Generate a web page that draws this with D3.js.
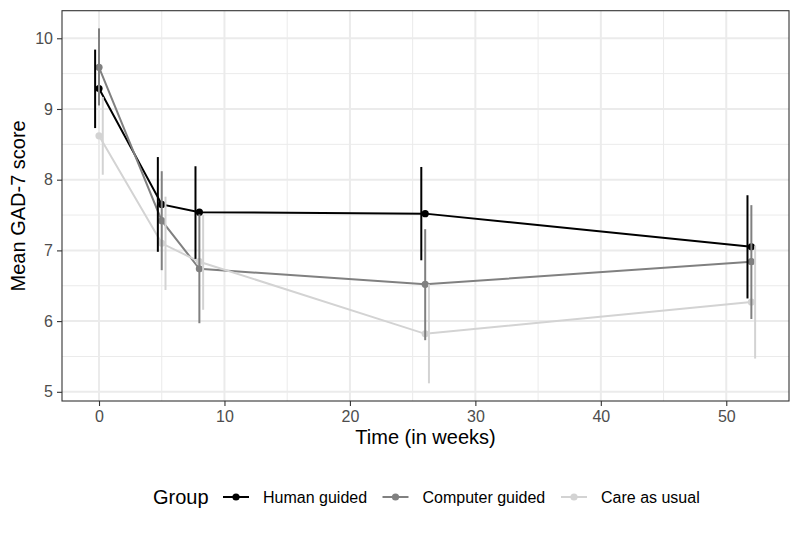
<!DOCTYPE html>
<html><head><meta charset="utf-8">
<script src="https://cdn.jsdelivr.net/npm/d3@7"></script>
<style>body{margin:0;background:#fff}text{font-family:"Liberation Sans",Arial,sans-serif}</style>
</head><body>
<svg id="c" width="800" height="533"></svg>
<script>
const weeks = [0, 5, 8, 26, 52];
const groups = ["Human guided", "Computer guided", "Care as usual"];
const colors = ["#000000", "#808080", "#d3d3d3"];
const dodge = [-0.31, 0, 0.30];
const humanMean  = [9.29, 7.65, 7.54, 7.52, 7.05];
const humanLow   = [8.73, 6.98, 6.88, 6.86, 6.32];
const humanHigh  = [9.84, 8.32, 8.19, 8.18, 7.78];
const compMean   = [9.59, 7.42, 6.74, 6.52, 6.84];
const compLow    = [9.05, 6.72, 5.97, 5.73, 6.03];
const compHigh   = [10.14, 8.12, 7.51, 7.30, 7.64];
const careMean   = [8.62, 7.10, 6.84, 5.82, 6.27];
const careLow    = [8.07, 6.44, 6.16, 5.12, 5.47];
const careHigh   = [9.17, 7.76, 7.50, 6.52, 7.07];
const xTicks = [0, 10, 20, 30, 40, 50];
const yTicks = [5, 6, 7, 8, 9, 10];

const series = [
  {name: groups[0], mean: humanMean, lo: humanLow, hi: humanHigh},
  {name: groups[1], mean: compMean, lo: compLow, hi: compHigh},
  {name: groups[2], mean: careMean, lo: careLow, hi: careHigh}
];

const svg = d3.select("#c");
const L = 62, R = 789, T = 10.7, B = 401;
const x = d3.scaleLinear().domain([-2.95, 55.0]).range([L, R]);
const y = d3.scaleLinear().domain([4.87, 10.39]).range([B, T]);

// grid
const g = svg.append("g");
const xMinor = [5, 15, 25, 35, 45];
const yMinor = [5.5, 6.5, 7.5, 8.5, 9.5];
g.selectAll(".xm").data(xMinor).enter().append("line")
  .attr("x1", d => x(d)).attr("x2", d => x(d)).attr("y1", T).attr("y2", B)
  .attr("stroke", "#ebebeb").attr("stroke-width", 1);
g.selectAll(".ym").data(yMinor).enter().append("line")
  .attr("y1", d => y(d)).attr("y2", d => y(d)).attr("x1", L).attr("x2", R)
  .attr("stroke", "#ebebeb").attr("stroke-width", 1);
g.selectAll(".xM").data(xTicks).enter().append("line")
  .attr("x1", d => x(d)).attr("x2", d => x(d)).attr("y1", T).attr("y2", B)
  .attr("stroke", "#ebebeb").attr("stroke-width", 2);
g.selectAll(".yM").data(yTicks).enter().append("line")
  .attr("y1", d => y(d)).attr("y2", d => y(d)).attr("x1", L).attr("x2", R)
  .attr("stroke", "#ebebeb").attr("stroke-width", 2);

// lines
const line = d3.line().x(d => x(d[0])).y(d => y(d[1]));
series.forEach((s, i) => {
  svg.append("path").datum(weeks.map((w, j) => [w, s.mean[j]]))
    .attr("d", line).attr("fill", "none").attr("stroke", colors[i]).attr("stroke-width", 2);
});
// points
series.forEach((s, i) => {
  svg.append("g").selectAll("circle").data(weeks.map((w, j) => [w, s.mean[j]])).enter()
    .append("circle").attr("cx", d => x(d[0])).attr("cy", d => y(d[1])).attr("r", 3.6)
    .attr("fill", colors[i]);
});
// error bars
series.forEach((s, i) => {
  svg.append("g").selectAll("line").data(weeks.map((w, j) => [w + dodge[i], s.lo[j], s.hi[j]])).enter()
    .append("line").attr("x1", d => x(d[0])).attr("x2", d => x(d[0]))
    .attr("y1", d => y(d[1])).attr("y2", d => y(d[2]))
    .attr("stroke", colors[i]).attr("stroke-width", 2);
});

// panel border
svg.append("rect").attr("x", L).attr("y", T).attr("width", R - L).attr("height", B - T)
  .attr("fill", "none").attr("stroke", "#333333").attr("stroke-width", 1.1);

// axes
const xAxis = svg.append("g").attr("transform", `translate(0,${B})`)
  .call(d3.axisBottom(x).tickValues(xTicks).tickSize(5).tickPadding(5).tickFormat(d3.format("d")));
const yAxis = svg.append("g").attr("transform", `translate(${L},0)`)
  .call(d3.axisLeft(y).tickValues(yTicks).tickSize(5).tickPadding(4).tickFormat(d3.format("d")));
[xAxis, yAxis].forEach(a => {
  a.select(".domain").remove();
  a.selectAll(".tick line").attr("stroke", "#333333").attr("stroke-width", 1.1);
  a.selectAll(".tick text").attr("fill", "#4d4d4d").style("font-size", "16px")
    .style("font-family", "'Liberation Sans', Arial, sans-serif");
});

// titles
svg.append("text").attr("x", (L + R) / 2).attr("y", 443.5).attr("text-anchor", "middle")
  .style("font-size", "20px").attr("fill", "#000").text("Time (in weeks)");
svg.append("text").attr("transform", `translate(24.5,${(T + B) / 2}) rotate(-90)`)
  .attr("text-anchor", "middle").style("font-size", "20px").attr("fill", "#000").text("Mean GAD-7 score");

// legend
const ly = 497;
svg.append("text").attr("x", 153).attr("y", ly + 7).style("font-size", "20px").text("Group");
const keyX = [223, 382.5, 561];
series.forEach((s, i) => {
  const lg = svg.append("g");
  lg.append("line").attr("x1", keyX[i]).attr("x2", keyX[i] + 26).attr("y1", ly).attr("y2", ly)
    .attr("stroke", colors[i]).attr("stroke-width", 2);
  lg.append("circle").attr("cx", keyX[i] + 13).attr("cy", ly).attr("r", 3.6).attr("fill", colors[i]);
  lg.append("text").attr("x", keyX[i] + 40).attr("y", ly + 6).style("font-size", "16px")
    .attr("fill", "#000").text(s.name);
});
</script>
</body></html>
